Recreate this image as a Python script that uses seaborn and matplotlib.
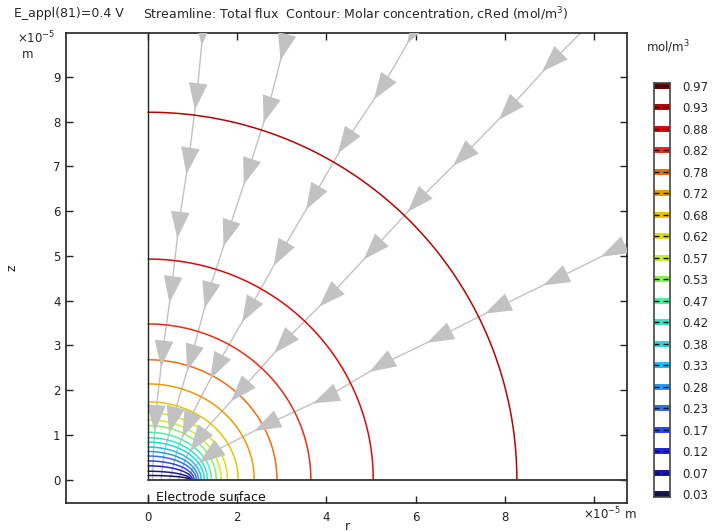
import numpy as np
import pandas as pd
import matplotlib
matplotlib.use('Agg')
import matplotlib.pyplot as plt
import seaborn as sns

# ----- values (lengths in units of 1e-5 m) -----
legend_levels = [0.97, 0.93, 0.88, 0.82, 0.78, 0.72, 0.68, 0.62, 0.57, 0.53,
                 0.47, 0.42, 0.38, 0.33, 0.28, 0.23, 0.17, 0.12, 0.07, 0.03]
legend_colors = ['#6a0000', '#b40404', '#d80a0a', '#ec2c10', '#f06c10', '#f09a00',
                 '#e8c400', '#e0e010', '#c4f030', '#88f060', '#50f0a0', '#30e8c4',
                 '#20dce0', '#20bcf4', '#2898f0', '#3070f0', '#2848f0', '#2222dc',
                 '#1818a4', '#16165e']

# contours inside the view: where each one meets the r axis and the z axis
cont_level = [0.93, 0.88, 0.82, 0.78, 0.72, 0.68, 0.62, 0.57, 0.53, 0.47,
              0.42, 0.38, 0.33, 0.28, 0.23, 0.17, 0.12, 0.07, 0.03]
cont_r = [8.27, 5.05, 3.65, 2.89, 2.38, 2.02, 1.78, 1.64, 1.53, 1.42,
          1.33, 1.26, 1.19, 1.13, 1.08, 1.03, 0.99, 0.96, 0.945]
cont_z = [8.21, 4.93, 3.48, 2.68, 2.14, 1.74, 1.50, 1.34, 1.21, 1.06,
          0.94, 0.84, 0.73, 0.63, 0.53, 0.42, 0.31, 0.19, 0.095]

# streamlines (total flux), from the outer boundary down to the electrode
line1_r = [1.23, 1.10, 0.92, 0.70, 0.54, 0.34, 0.18, 0.12, 0.10]
line1_z = [10.0, 8.66, 7.21, 5.78, 4.38, 2.95, 1.54, 0.60, 0.0]
line2_r = [3.13, 2.69, 2.26, 1.84, 1.39, 1.01, 0.56, 0.36, 0.29]
line2_z = [10.0, 8.28, 6.94, 5.67, 4.29, 2.88, 1.38, 0.60, 0.0]
line3_r = [5.96, 5.25, 4.37, 3.68, 3.03, 2.29, 1.61, 1.03, 0.66, 0.49]
line3_z = [10.0, 8.77, 7.46, 6.27, 5.16, 3.84, 2.66, 1.54, 0.70, 0.0]
line4_r = [9.72, 9.01, 8.05, 7.06, 6.05, 5.20, 4.08, 3.12, 2.13, 1.32, 0.85, 0.68]
line4_z = [10.0, 9.29, 8.24, 7.23, 6.23, 5.31, 4.11, 3.15, 2.05, 1.16, 0.50, 0.0]
line5_r = [10.76, 9.06, 7.78, 6.48, 5.27, 3.97, 2.74, 1.52, 1.04, 0.86]
line5_z = [5.28, 4.44, 3.82, 3.17, 2.59, 1.83, 1.27, 0.65, 0.30, 0.0]
arrow_start = [0.0, 0.35, 0.0, 0.95, 0.37]   # arc length of the first arrow
arrow_step = 1.45
arrow_stop = 0.6                             # no arrow this close to the electrode

x_ticks = [0, 2, 4, 6, 8, 10]
x_ticklabels = ['0', '2', '4', '6', '8', '']
y_ticks = [0, 1, 2, 3, 4, 5, 6, 7, 8, 9]

# ----- style -----
sns.set_style('white')
plt.rcParams['font.family'] = ['DejaVu Sans']
plt.rcParams['mathtext.fontset'] = 'dejavusans'
W, H = 715, 531
gray = '#c2c2c2'

fig = plt.figure(figsize=(W / 100, H / 100), dpi=100)
ax = fig.add_axes([66 / W, 1 - 503 / H, (627 - 66) / W, (503 - 33) / H])

# ----- contour lines (quarter ellipses through the read intercepts) -----
t = np.linspace(0, np.pi / 2, 120)
parts = []
for lev, a, b in zip(cont_level, cont_r, cont_z):
    parts.append(pd.DataFrame({'r': a * np.cos(t), 'z': b * np.sin(t), 'level': lev}))
cdf = pd.concat(parts, ignore_index=True)
pal = dict(zip(legend_levels, legend_colors))
sns.lineplot(data=cdf, x='r', y='z', hue='level', units='level', estimator=None,
             sort=False, palette=pal, legend=False, lw=1.1, ax=ax, zorder=3)

# ----- streamlines -----
lines = [(line1_r, line1_z), (line2_r, line2_z), (line3_r, line3_z),
         (line4_r, line4_z), (line5_r, line5_z)]
sparts = []
for k, (lr, lz) in enumerate(lines):
    sparts.append(pd.DataFrame({'r': lr, 'z': lz, 'line': k}))
sdf = pd.concat(sparts, ignore_index=True)
sns.lineplot(data=sdf, x='r', y='z', units='line', estimator=None, sort=False,
             color=gray, lw=1.0, ax=ax, zorder=2)


def arrow_points(xs, ys, start, step, stop):
    xs, ys = np.asarray(xs, float), np.asarray(ys, float)
    seg = np.hypot(np.diff(xs), np.diff(ys))
    cum = np.concatenate([[0], np.cumsum(seg)])
    out = []
    s = start
    while s <= cum[-1] - stop:
        i = min(np.searchsorted(cum, s, side='right') - 1, len(seg) - 1)
        f = (s - cum[i]) / seg[i]
        dx, dy = (xs[i + 1] - xs[i]) / seg[i], (ys[i + 1] - ys[i]) / seg[i]
        out.append((xs[i] + f * (xs[i + 1] - xs[i]), ys[i] + f * (ys[i + 1] - ys[i]), dx, dy))
        s += step
    return out


L, HW = 0.60, 0.21
for (lr, lz), st in zip(lines, arrow_start):
    for cx, cy, dx, dy in arrow_points(lr, lz, st, arrow_step, arrow_stop):
        tip = (cx + dx * L / 2, cy + dy * L / 2)
        bx, by = cx - dx * L / 2, cy - dy * L / 2
        c1 = (bx - dy * HW, by + dx * HW)
        c2 = (bx + dy * HW, by - dx * HW)
        ax.fill([tip[0], c1[0], c2[0]], [tip[1], c1[1], c2[1]], color=gray, lw=0, zorder=4)

# geometry boundaries
ax.plot([0, 0], [0, 10], color='#222222', lw=1.0, zorder=5)
ax.plot([0, 10.8], [0, 0], color='#333333', lw=1.3, zorder=5)
ax.plot([0], [-0.4], marker='|', ms=6, mew=1, color='#222222', zorder=5)
ax.text(0.18, -0.40, 'Electrode surface', fontsize=9, va='center', ha='left', color='#111111')

ax.set_xlim(-1.84, 10.74)
ax.set_ylim(-0.52, 9.98)
ax.set_xticks(x_ticks)
ax.set_xticklabels(x_ticklabels)
ax.set_yticks(y_ticks)
ax.set_xlabel('')
ax.set_ylabel('')
ax.tick_params(direction='in', top=True, right=True, bottom=True, left=True,
               length=5, width=1, labelsize=8.5, colors='#222222', pad=4)
ax.tick_params(axis='x', pad=5.5)
for sp in ax.spines.values():
    sp.set_linewidth(1.2)
    sp.set_color('#222222')
    sp.set_visible(True)

# ----- texts -----
fig.text(14 / W, 1 - 13 / H, 'E_appl(81)=0.4 V', fontsize=9, va='center')
fig.text(143 / W, 1 - 14 / H,
         'Streamline: Total flux  Contour: Molar concentration, cRed (mol/m$^3$)',
         fontsize=9, va='center')
fig.text(17 / W, 1 - 38 / H, r'$\times$10$^{-5}$', fontsize=8.5, va='center')
fig.text(22 / W, 1 - 55 / H, 'm', fontsize=8.5, va='center')
fig.text(583 / W, 1 - 514 / H, r'$\times$10$^{-5}$ m', fontsize=8.5, va='center')
fig.text(347 / W, 1 - 526 / H, 'r', fontsize=9, va='center', ha='center')
fig.text(12 / W, 1 - 268 / H, 'z', fontsize=9, va='center', ha='center', rotation=90)
fig.text(668 / W, 1 - 47 / H, 'mol/m$^3$', fontsize=8.5, va='center', ha='center')

# ----- contour legend -----
lax = fig.add_axes([654 / W, 1 - 497 / H, 16 / W, (497 - 83) / H])
idx = np.arange(len(legend_levels))
lax.barh(idx, 1, height=0.28, left=0, color=legend_colors, lw=0)
lax.hlines(idx, 0, 1, colors='#111111', linestyles=(0, (3.6, 2.9)), lw=1.0)
lax.set_xlim(0, 1)
lax.set_ylim(19.14, -0.14)
lax.set_xticks([])
lax.yaxis.tick_right()
lax.set_yticks(idx)
lax.set_yticklabels([f'{v:.2f}' for v in legend_levels])
lax.tick_params(axis='y', length=0, labelsize=8.5, pad=9, right=True, left=False)
for sp in lax.spines.values():
    sp.set_linewidth(1.2)
    sp.set_color('#444444')
    sp.set_visible(True)

fig.savefig('out.png', dpi=100)
